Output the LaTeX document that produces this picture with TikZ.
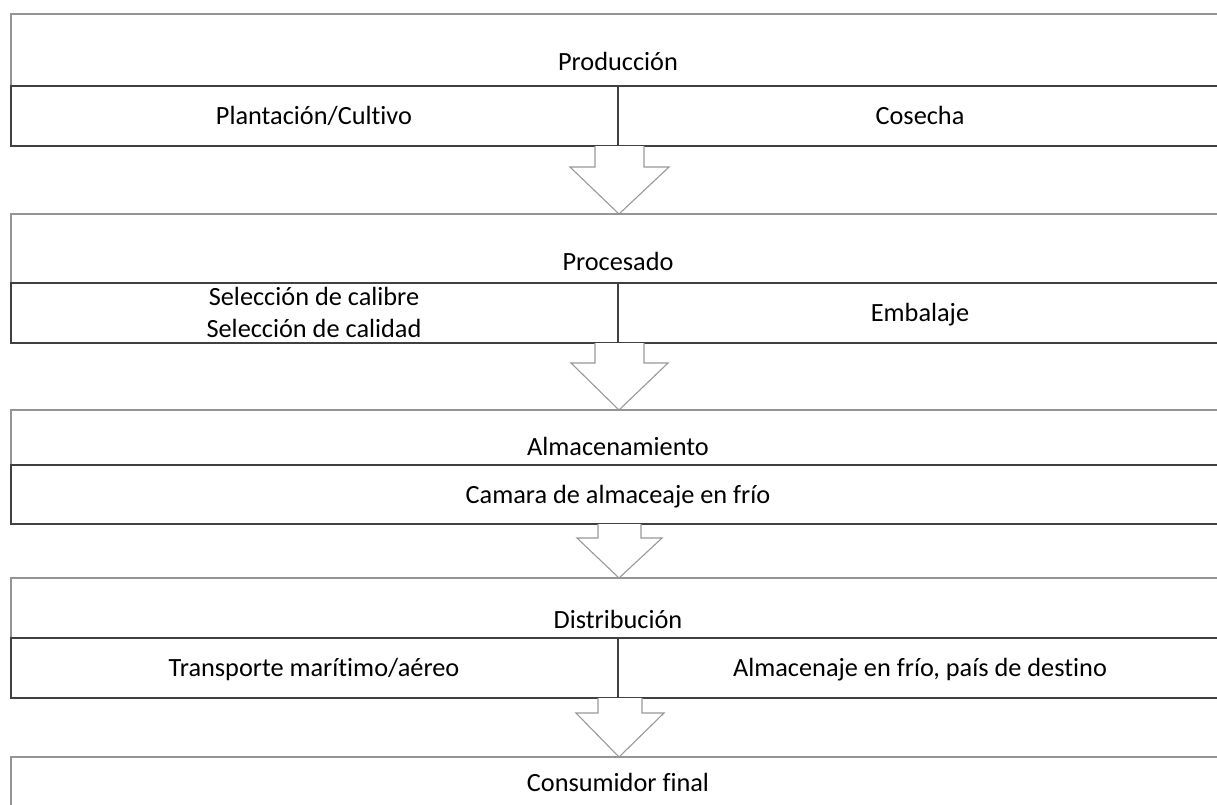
\documentclass[tikz,border=0pt]{standalone}
\usepackage{fontspec}
\setmainfont{Carlito}[Ligatures=NoCommon]
\begin{document}
\begin{tikzpicture}[x=1pt,y=-1pt,
  outerbox/.style={draw=black!42,line width=1.2pt},
  subbox/.style={draw=black!75,line width=1.3pt},
  arrowshape/.style={draw=black!40,line width=1.1pt,fill=white,line join=miter},
  lbl/.style={font=\fontsize{26.3}{31}\selectfont,inner sep=0pt,text height=17pt,text depth=0pt,anchor=center,text=black}]
\useasboundingbox (0,0) rectangle (1217,804);
\clip (0,0) rectangle (1217,804);
\fill[white] (0,0) rectangle (1217,804);
% Section 1
\draw[outerbox] (11,14) rectangle (1226,86);
\draw[subbox] (11,86) rectangle (1226,146);
\draw[subbox] (618,86) -- (618,146);
\node[lbl] (prod) at (618,62) {Producción};
\node[lbl] (plant) at (314,116) {Plantación/Cultivo};
\node[lbl] (cose) at (920,116) {Cosecha};
% Arrow 1
\draw[arrowshape] (595,146) -- (595,167) -- (570,167) -- (619,214) -- (669,167) -- (644,167) -- (644,146);
% Section 2
\draw[outerbox] (11,214) rectangle (1226,283);
\draw[subbox] (11,283) rectangle (1226,343);
\draw[subbox] (618,283) -- (618,343);
\node[lbl] (proc) at (618,262) {Procesado};
\node[lbl] (cal1) at (314,297) {Selección de calibre};
\node[lbl] (cal2) at (314,329) {Selección de calidad};
\node[lbl] (emb) at (920,313) {Embalaje};
% Arrow 2
\draw[arrowshape] (595,343) -- (595,363) -- (571,363) -- (619,410) -- (668,363) -- (644,363) -- (644,343);
% Section 3
\draw[outerbox] (11,410) rectangle (1226,465);
\draw[subbox] (11,465) rectangle (1226,524);
\node[lbl] (alm) at (618,447) {Almacenamiento};
\node[lbl] (cam) at (618,495) {Camara de almaceaje en frío};
% Arrow 3
\draw[arrowshape] (598,524) -- (598,538) -- (577,538) -- (619,578) -- (662,538) -- (641,538) -- (641,524);
% Section 4
\draw[outerbox] (11,578) rectangle (1226,638);
\draw[subbox] (11,638) rectangle (1226,698);
\draw[subbox] (618,638) -- (618,698);
\node[lbl] (dist) at (618,620) {Distribución};
\node[lbl] (trans) at (314,668) {Transporte marítimo/aéreo};
\node[lbl] (almd) at (920,668) {Almacenaje en frío, país de destino};
% Arrow 4
\draw[arrowshape] (598,698) -- (598,713) -- (576,713) -- (619,757) -- (664,713) -- (642,713) -- (642,698);
% Section 5
\draw[outerbox] (11,757) rectangle (1226,830);
\node[lbl] (cons) at (618,783) {Consumidor final};
\end{tikzpicture}
\end{document}
